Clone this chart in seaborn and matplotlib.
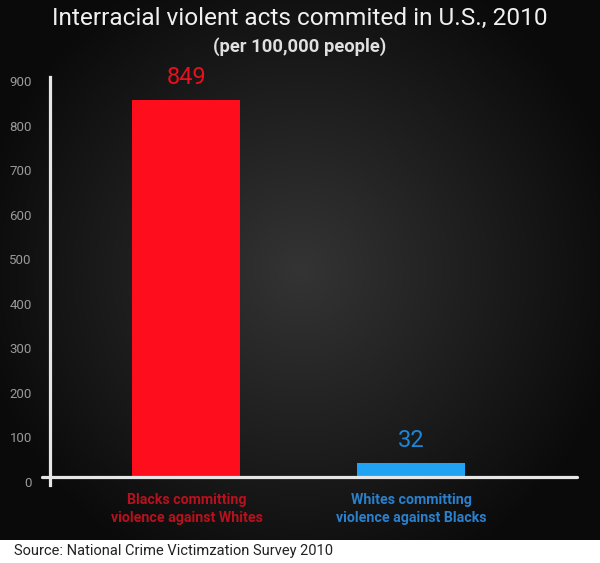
import numpy as np
import pandas as pd
import matplotlib
matplotlib.use('Agg')
import matplotlib.pyplot as plt
import matplotlib.transforms as mtransforms
import seaborn as sns

categories = ['Blacks committing\nviolence against Whites', 'Whites committing\nviolence against Blacks']
values = [849, 32]
bar_colors = ['#fe0d1d', '#1fa3f2']
value_colors = ['#e8101f', '#1f86d6']
label_colors = ['#b8101c', '#2a80cc']
yticks = [0, 100, 200, 300, 400, 500, 600, 700, 800, 900]

sns.set_style('dark')
FONT = ['Roboto', 'DejaVu Sans']
plt.rcParams['font.family'] = FONT

W, H = 600, 563
fig = plt.figure(figsize=(6, 5.63), dpi=100, facecolor='black')

# radial background
bg = fig.add_axes([0, 23 / H, 1, 1 - 23 / H])
yy, xx = np.mgrid[0:540, 0:600]
r = np.hypot(xx - 300, yy - 270)
g = np.clip(10 + 42 * (1 - r / 330), 10, 52) / 255
bg.imshow(np.dstack([g, g, g]), aspect='auto', extent=[0, 600, 540, 0])
bg.set_axis_off()

# white source strip
strip = fig.add_axes([0, 0, 1, 23 / H])
strip.set_facecolor('white')
strip.set_xticks([])
strip.set_yticks([])
for s in strip.spines.values():
    s.set_visible(False)
fig.text(14 / W, 1 - 551 / H, 'Source: National Crime Victimzation Survey 2010',
         color='#222222', fontsize=10.5, va='center', ha='left')

# main axes: left spine at x=50px, top 77px, bottom 485px
ax = fig.add_axes([50 / W, 1 - 485 / H, 527 / W, 408 / H])
ax.patch.set_alpha(0)
df = pd.DataFrame({'group': categories, 'value': values})
sns.barplot(data=df, x='group', y='value', hue='group', palette=bar_colors,
            width=0.48, legend=False, ax=ax, saturation=1, linewidth=0)
ax.set_xlim(-136.5 / 225, 390.5 / 225)
ax.set_ylim(-17, 900)
ax.grid(False)
for s in ['top', 'right', 'bottom']:
    ax.spines[s].set_visible(False)
ax.spines['left'].set_color('#e6e6e6')
ax.spines['left'].set_linewidth(2.3)
ax.axhline(0, xmin=-8 / 527, xmax=1, color='#e6e6e6', lw=2.3, clip_on=False)

ax.set_yticks(yticks)
ax.tick_params(axis='y', length=0, pad=13, labelcolor='#9a9a9a', labelsize=9.5)
offset = mtransforms.ScaledTranslation(0, -3 / 72, fig.dpi_scale_trans)
for lab in ax.get_yticklabels():
    lab.set_transform(lab.get_transform() + offset)

ax.set_xticks([0, 1])
ax.set_xticklabels(categories, fontsize=10.2, fontweight='bold', linespacing=1.3)
ax.tick_params(axis='x', length=0, pad=6)
for lab, c in zip(ax.get_xticklabels(), label_colors):
    lab.set_color(c)
ax.set_xlabel('')
ax.set_ylabel('')

for i, (v, c) in enumerate(zip(values, value_colors)):
    ax.annotate(str(v), (i, v), xytext=(0, 8), textcoords='offset points',
                ha='center', va='bottom', color=c, fontsize=17, clip_on=False)

fig.text(0.5, 1 - 18 / H, 'Interracial violent acts commited in U.S., 2010',
         color='#f0f0f0', fontsize=17.6, ha='center', va='center')
fig.text(0.5, 1 - 47 / H, '(per 100,000 people)', color='#e0e0e0', fontsize=13.2,
         fontweight='bold', ha='center', va='center')

fig.savefig('out.png', dpi=100, facecolor='black')
